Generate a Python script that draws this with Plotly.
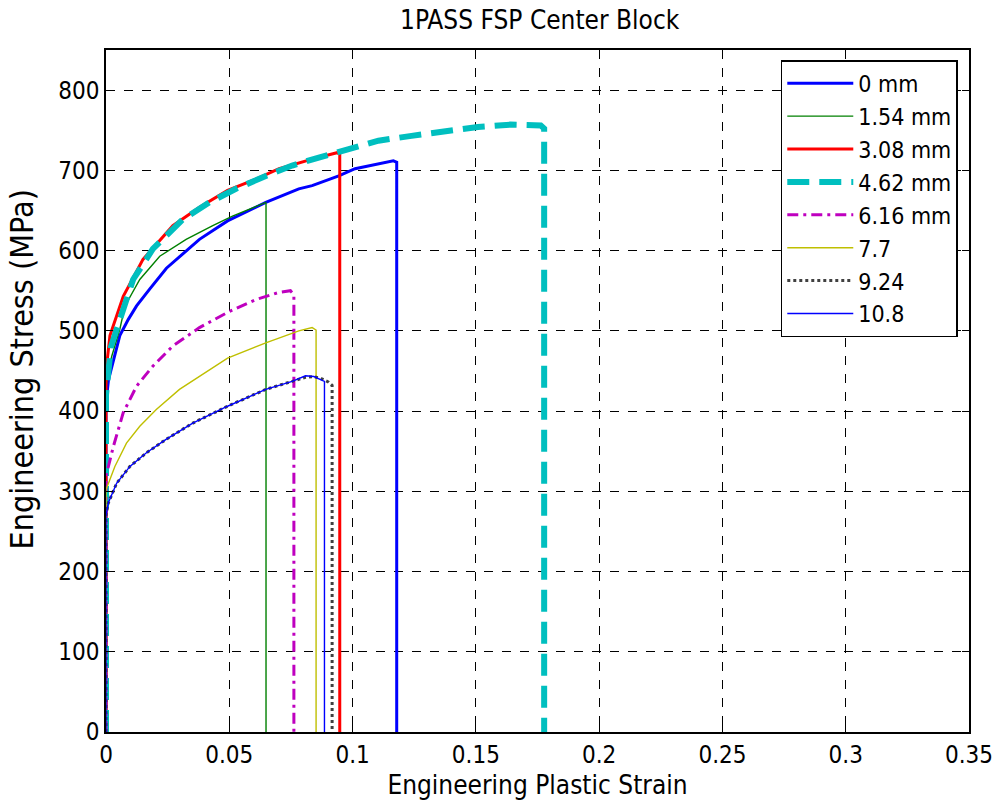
import plotly.graph_objects as go

# Engineering plastic strain / stress (MPa) for each position from the weld center
labels = ["0 mm", "1.54 mm", "3.08 mm", "4.62 mm", "6.16 mm", "7.7", "9.24", "10.8"]

strain_0 = [0, 0, 0.001, 0.003, 0.0056, 0.009, 0.0124, 0.0177, 0.0245, 0.0379, 0.0493,
            0.0648, 0.0782, 0.0836, 0.0944, 0.101, 0.1105, 0.1165, 0.1179, 0.1179]
stress_0 = [0, 410, 439, 464, 494, 514, 531, 552, 578, 614, 637,
            660, 677, 681, 693, 702, 708, 712, 710, 0]

strain_154 = [0, 0, 0.0023, 0.0056, 0.0077, 0.0137, 0.0218, 0.0325, 0.0433, 0.0513,
              0.0648, 0.0649, 0.0649]
stress_154 = [0, 430, 468, 502, 531, 564, 593, 614, 631, 643, 660, 658, 0]

strain_308 = [0, 0, 0.0016, 0.007, 0.015, 0.0271, 0.0379, 0.0493, 0.0608, 0.0702,
              0.0836, 0.0937, 0.0948, 0.0948]
stress_308 = [0, 450, 494, 543, 589, 631, 654, 675, 689, 702, 714, 722, 720, 0]

strain_462 = [0, 0, 0.002, 0.011, 0.019, 0.0312, 0.0419, 0.0527, 0.0648, 0.0755,
              0.0863, 0.0984, 0.1105, 0.1239, 0.1373, 0.1508, 0.164, 0.1763, 0.1777, 0.1777]
stress_462 = [0, 420, 480, 564, 602, 639, 660, 677, 693, 706,
              716, 727, 737, 743, 749, 754, 757, 756, 752, 0]

strain_616 = [0, 0, 0.003, 0.007, 0.0124, 0.019, 0.0271, 0.0379, 0.0493, 0.0608,
              0.0702, 0.0748, 0.0762, 0.0762]
stress_616 = [0, 319, 356, 398, 431, 456, 481, 504, 523, 539, 548, 550, 545, 0]

strain_77 = [0, 0, 0.0036, 0.0083, 0.0137, 0.0204, 0.0298, 0.0406, 0.0493, 0.0648,
             0.0782, 0.0836, 0.0852, 0.0852]
stress_77 = [0, 302, 331, 360, 381, 402, 427, 448, 466, 485, 500, 504, 501, 0]

strain_924 = [0, 0, 0.001, 0.0043, 0.0097, 0.0164, 0.0245, 0.0352, 0.0493, 0.0648,
              0.0755, 0.0809, 0.0843, 0.0876, 0.0903, 0.0917, 0.0917]
stress_924 = [0, 270, 286, 310, 331, 348, 365, 385, 406, 427,
              437, 442, 443, 440, 436, 432, 0]

strain_108 = [0, 0, 0.001, 0.0043, 0.0097, 0.0164, 0.0245, 0.0352, 0.0493, 0.0648,
              0.0755, 0.0809, 0.0843, 0.0876, 0.0886, 0.0886]
stress_108 = [0, 270, 286, 310, 331, 348, 365, 385, 406, 427,
              437, 444, 443, 439, 437, 0]

x_ticks = [0, 0.05, 0.1, 0.15, 0.2, 0.25, 0.3, 0.35]
x_tick_text = ["0", "0.05", "0.1", "0.15", "0.2", "0.25", "0.3", "0.35"]
y_ticks = [0, 100, 200, 300, 400, 500, 600, 700, 800]

series = [
    (strain_0, stress_0, dict(color="#0000FF", width=3, dash="solid")),
    (strain_154, stress_154, dict(color="#008000", width=1.4, dash="solid")),
    (strain_308, stress_308, dict(color="#FF0000", width=3, dash="solid")),
    (strain_462, stress_462, dict(color="#00BFBF", width=6, dash="22px,10px")),
    (strain_616, stress_616, dict(color="#BF00BF", width=3, dash="11px,5px,3px,5px")),
    (strain_77, stress_77, dict(color="#BFBF00", width=1.4, dash="solid")),
    (strain_924, stress_924, dict(color="#404040", width=3, dash="3px,3px")),
    (strain_108, stress_108, dict(color="#0000FF", width=1.4, dash="solid")),
]

FONT = "DejaVu Sans Condensed, Liberation Sans Narrow, Liberation Sans, Arial, sans-serif"

fig = go.Figure()
for name, (xs, ys, line) in zip(labels, series):
    fig.add_trace(go.Scatter(x=xs, y=ys, mode="lines", name=name, line=line))

axis_common = dict(
    showline=True, linecolor="black", linewidth=1.5, mirror="ticks",
    ticks="inside", ticklen=7, tickcolor="black",
    showgrid=True, gridcolor="black", griddash="dash", gridwidth=1,
    zeroline=False, tickfont=dict(family=FONT, size=24, color="black"),
)

fig.update_layout(
    width=1005, height=808,
    paper_bgcolor="white", plot_bgcolor="white",
    margin=dict(l=106, r=30, t=50, b=76),
    title=dict(text="1PASS FSP Center Block", x=0.537, xanchor="center",
               y=0.975, yanchor="middle",
               font=dict(family=FONT, size=26, color="black")),
    xaxis=dict(range=[0, 0.35], tickvals=x_ticks, ticktext=x_tick_text,
               title=dict(text="Engineering Plastic Strain", standoff=8,
                          font=dict(family=FONT, size=26, color="black")),
               **axis_common),
    yaxis=dict(range=[0, 850], tickvals=y_ticks, **axis_common),
    legend=dict(x=0.987, y=0.985, xanchor="right", yanchor="top",
                bgcolor="white", bordercolor="black", borderwidth=1.5,
                font=dict(family=FONT, size=23, color="black"),
                itemwidth=66),
    showlegend=True,
)

# Vertical axis title placed as a rotated annotation
fig.add_annotation(text="Engineering Stress (MPa)", textangle=-90,
                   xref="paper", yref="paper", x=-0.097, y=0.532,
                   xanchor="center", yanchor="middle", showarrow=False,
                   font=dict(family=FONT, size=32, color="black"))

fig.write_html("out.html")
